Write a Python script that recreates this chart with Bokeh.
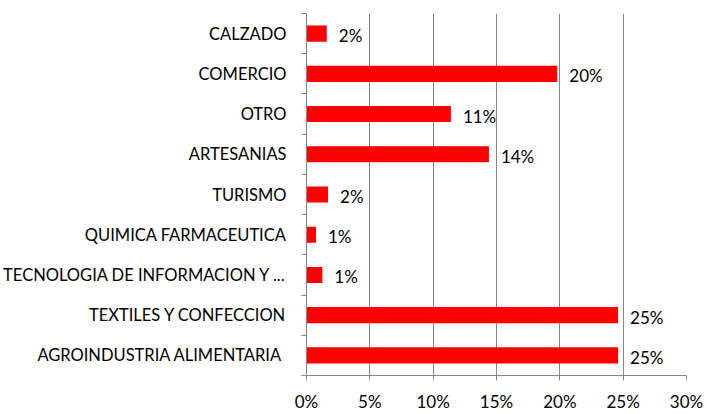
from bokeh.plotting import figure
from bokeh.models import Range1d, FixedTicker, NumeralTickFormatter, ColumnDataSource
from bokeh.core.properties import value
from bokeh.embed import file_html
from bokeh.resources import INLINE

# bottom-to-top order
categories = [
    "AGROINDUSTRIA  ALIMENTARIA",
    "TEXTILES Y CONFECCION",
    "TECNOLOGIA DE INFORMACION Y ...",
    "QUIMICA FARMACEUTICA",
    "TURISMO",
    "ARTESANIAS",
    "OTRO",
    "COMERCIO",
    "CALZADO",
]
shares = [0.246, 0.246, 0.0125, 0.0075, 0.017, 0.144, 0.114, 0.198, 0.016]
x_ticks = [0.0, 0.05, 0.10, 0.15, 0.20, 0.25, 0.30]

FONT = "Lato"
FS = "17px"
pos = [i + 0.5 for i in range(len(categories))]
labels = [f"{round(v * 100):.0f}%" for v in shares]
src = ColumnDataSource(dict(y=pos, v=shares, lab=labels))

p = figure(width=707, height=414, output_backend="svg", toolbar_location=None,
           x_range=Range1d(0, 0.30), y_range=Range1d(0, len(categories)))
p.min_border_left = 306
p.min_border_right = 21
p.min_border_top = 13
p.min_border_bottom = 36
p.outline_line_color = None
p.background_fill_color = "white"
p.border_fill_color = "white"

p.hbar(y="y", right="v", left=0, height=0.4, source=src,
       fill_color="#FF0000", line_color=None)

p.text(x="v", y="y", text="lab", source=src, x_offset=12, y_offset=2,
       text_align="left", text_baseline="middle",
       text_font=value(FONT), text_font_size=FS, text_color="#000000")

# x axis
p.xaxis.ticker = FixedTicker(ticks=x_ticks)
p.xaxis.formatter = NumeralTickFormatter(format="0%")
p.xaxis.axis_line_color = "#868686"
p.xaxis.major_tick_line_color = "#868686"
p.xaxis.major_tick_in = 0
p.xaxis.major_tick_out = 5
p.xaxis.minor_tick_line_color = None
p.xaxis.major_label_standoff = 10
p.xaxis.major_label_text_font = FONT
p.xaxis.major_label_text_font_size = FS
p.xaxis.major_label_text_color = "#000000"

# y axis
p.yaxis.ticker = FixedTicker(ticks=pos, minor_ticks=list(range(len(categories) + 1)))
p.yaxis.major_label_overrides = {pv: c for pv, c in zip(pos, categories)}
p.yaxis.axis_line_color = "#868686"
p.yaxis.major_tick_line_color = None
p.yaxis.major_tick_in = 0
p.yaxis.major_tick_out = 0
p.yaxis.minor_tick_line_color = "#868686"
p.yaxis.minor_tick_in = 0
p.yaxis.minor_tick_out = 5
p.yaxis.major_label_standoff = 15
p.yaxis.major_label_text_font = FONT
p.yaxis.major_label_text_font_size = "16.5px"
p.yaxis.major_label_text_color = "#000000"

p.xgrid.ticker = FixedTicker(ticks=x_ticks)
p.xgrid.grid_line_color = "#868686"
p.ygrid.grid_line_color = None

open("out.html", "w").write(file_html(p, INLINE))
